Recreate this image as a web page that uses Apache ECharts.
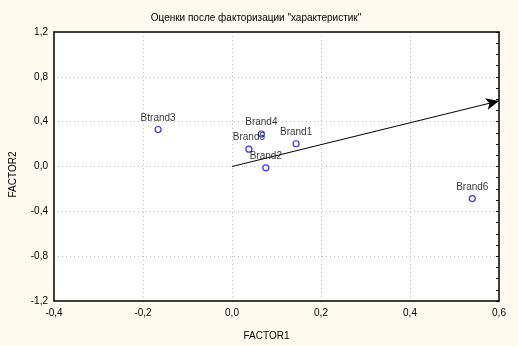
<!DOCTYPE html>
<html>
<head>
<meta charset="utf-8">
<script src="https://cdn.jsdelivr.net/npm/echarts@6/dist/echarts.min.js"></script>
<style>
  html, body { margin: 0; padding: 0; background: #FFF9EE; }
  #chart { width: 518px; height: 346px; }
</style>
</head>
<body>
<div id="chart"></div>
<script>
// Factor scores of brands
const brandNames = ['Btrand3', 'Brand4', 'Brand5', 'Brand1', 'Brand2', 'Brand6'];
const factor1 = [-0.166, 0.066, 0.038, 0.144, 0.076, 0.540];
const factor2 = [0.33, 0.29, 0.155, 0.203, -0.012, -0.286];
// Direction vector drawn from origin
const vectorStart = [0, 0];
const vectorEnd = [0.6, 0.585];

const xTicks = { min: -0.4, max: 0.6, interval: 0.2 };
const yTicks = { min: -1.2, max: 1.2, interval: 0.4 };

const fmt = v => v.toFixed(1).replace('.', ',');
const font = 'Liberation Sans, Arial, sans-serif';
const frame = { show: true, onZero: false, lineStyle: { color: '#000', width: 1.5 } };
const grid = { lineStyle: { color: '#bdbdbd', type: [1, 3], width: 1 }, showMinLine: false, showMaxLine: false };

const points = brandNames.map((n, i) => ({ name: n, value: [factor1[i], factor2[i]] }));

const chart = echarts.init(document.getElementById('chart'));
chart.setOption({
  backgroundColor: '#FFF9EE',
  animation: false,
  title: {
    text: 'Оценки после факторизации "характеристик"',
    left: 251, top: 8, textAlign: 'center',
    textStyle: { fontFamily: font, fontSize: 10, fontWeight: 'normal', color: '#000' }
  },
  grid: { left: 51, right: 19, top: 32, bottom: 45, show: true, backgroundColor: '#fff', borderWidth: 0 },
  xAxis: [{
    type: 'value', min: xTicks.min, max: xTicks.max, interval: xTicks.interval,
    name: 'FACTOR1', nameLocation: 'middle', nameGap: 30,
    nameTextStyle: { fontFamily: font, fontSize: 10, color: '#000', padding: [0, 0, 0, -20] },
    axisLine: frame,
    axisTick: { show: false },
    axisLabel: { formatter: fmt, fontFamily: font, fontSize: 10, color: '#000', margin: 7 },
    splitLine: grid
  }, {
    type: 'value', position: 'top', min: xTicks.min, max: xTicks.max, interval: xTicks.interval,
    axisLine: frame, axisTick: { show: false }, axisLabel: { show: false }, splitLine: { show: false }
  }],
  yAxis: [{
    type: 'value', min: yTicks.min, max: yTicks.max, interval: yTicks.interval,
    name: 'FACTOR2', nameLocation: 'middle', nameGap: 36, nameRotate: 90,
    nameTextStyle: { fontFamily: font, fontSize: 10, color: '#000', padding: [0, 0, 0, -16] },
    axisLine: frame,
    axisTick: { show: false },
    axisLabel: { formatter: fmt, fontFamily: font, fontSize: 10, color: '#000', margin: 6 },
    splitLine: grid
  }, {
    type: 'value', position: 'right', min: yTicks.min, max: yTicks.max, interval: 0.1,
    axisLine: frame,
    axisTick: { show: true, inside: true, length: 3, lineStyle: { color: '#000', width: 1 } },
    axisLabel: { show: false },
    splitLine: { show: false }
  }],
  series: [{
    type: 'scatter',
    data: points,
    symbol: 'circle',
    symbolSize: 6,
    itemStyle: { color: '#fff', borderColor: '#0000ff', borderWidth: 1.2 },
    label: {
      show: true, position: 'top', distance: 3,
      formatter: p => p.name,
      fontFamily: font, fontSize: 10, color: '#000'
    },
    markLine: {
      silent: true,
      symbol: ['none', 'arrow'],
      symbolSize: [9, 13],
      label: { show: false },
      lineStyle: { color: '#000', width: 1, type: 'solid' },
      data: [[{ coord: vectorStart }, { coord: vectorEnd }]]
    }
  }]
});
</script>
</body>
</html>
